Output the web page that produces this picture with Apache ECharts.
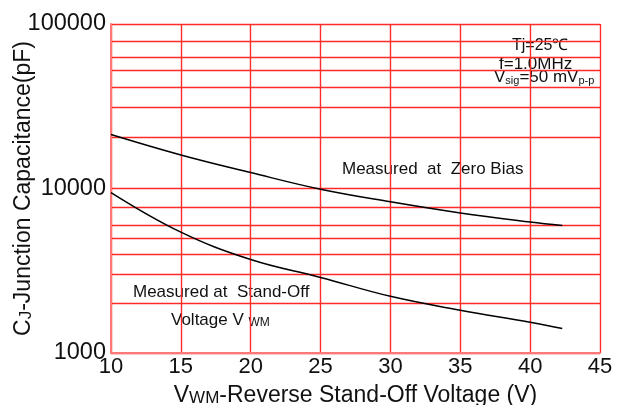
<!DOCTYPE html>
<html>
<head>
<meta charset="utf-8">
<script src="https://cdn.jsdelivr.net/npm/echarts@6/dist/echarts.min.js"></script>
<style>
html,body{margin:0;padding:0;background:#fff;}
#c{width:640px;height:405px;}
</style>
</head>
<body>
<div id="c"></div>
<script>
// Data
const voltages = [10, 15, 20, 25, 30, 35, 40, 42.3];
const zeroBias = [21300, 16000, 12500, 9900, 8300, 7100, 6250, 5950];
const standOff = [9450, 5430, 3700, 2880, 2210, 1820, 1540, 1410];
const xTicks = [10, 15, 20, 25, 30, 35, 40, 45];
const yTicks = [1000, 10000, 100000];
const minorGrid = [2000, 3000, 4000, 5000, 6000, 7700, 20500, 31000, 41000, 52000, 63000, 79000];

const FONT = 'Liberation Sans, Arial, sans-serif';
const gridValues = yTicks.concat(minorGrid).sort((a, b) => a - b);
const chart = echarts.init(document.getElementById('c'), null, {renderer: 'canvas'});

chart.setOption({
  animation: false,
  backgroundColor: '#ffffff',
  grid: {left: 111, right: 40, top: 24, bottom: 52, show: false, containLabel: false, outerBoundsMode: 'none'},
  xAxis: {
    type: 'value', min: xTicks[0], max: xTicks[xTicks.length - 1], interval: 5,
    axisLine: {show: true, onZero: false, lineStyle: {color: '#ff7878', width: 2}},
    axisTick: {show: false},
    splitLine: {show: true, lineStyle: {color: '#ff2a2a', width: 1.4}},
    axisLabel: {color: '#111', fontFamily: FONT, fontSize: 22, margin: 3},
    name: '{a|V}{s|WM}{a|-Reverse Stand-Off Voltage (V)}',
    nameLocation: 'middle', nameGap: 28, nameMoveOverlap: false,
    nameTextStyle: {
      rich: {
        a: {fontFamily: FONT, fontSize: 23, color: '#111', verticalAlign: 'bottom', lineHeight: 26},
        s: {fontFamily: FONT, fontSize: 17, color: '#111', verticalAlign: 'bottom', lineHeight: 23}
      }
    }
  },
  yAxis: {
    type: 'log', logBase: 10, min: yTicks[0], max: yTicks[yTicks.length - 1],
    axisLine: {show: true, onZero: false, lineStyle: {color: '#ff7878', width: 2}},
    axisTick: {show: false, customValues: gridValues},
    splitLine: {show: true, lineStyle: {color: '#ff2a2a', width: 1.4}},
    axisLabel: {color: '#111', fontFamily: FONT, fontSize: 23.5, margin: 5, padding: [0, 0, 10, 0],
      customValues: yTicks, formatter: v => String(Math.round(v))},
    name: '{a|C}{s|J}{a|-Junction Capacitance(pF)}',
    nameLocation: 'middle', nameGap: 76, nameRotate: 90, nameMoveOverlap: false,
    nameTextStyle: {
      rich: {
        a: {fontFamily: FONT, fontSize: 23, color: '#111', verticalAlign: 'bottom', lineHeight: 26},
        s: {fontFamily: FONT, fontSize: 17, color: '#111', verticalAlign: 'bottom', lineHeight: 22}
      }
    }
  },
  series: [
    {
      type: 'line', name: 'Zero Bias', smooth: 0.4, showSymbol: false,
      lineStyle: {color: '#000', width: 1.5},
      data: voltages.map((v, i) => [v, zeroBias[i]])
    },
    {
      type: 'line', name: 'Stand-Off', smooth: 0.4, showSymbol: false,
      lineStyle: {color: '#000', width: 1.5},
      data: voltages.map((v, i) => [v, standOff[i]])
    }
  ],
  graphic: [
    {type: 'text', left: 512, top: 38, style: {text: 'Tj=25\u2103', font: '16px ' + FONT, fill: '#111'}},
    {type: 'text', left: 499, top: 56, style: {text: 'f=1.0MHz', font: '17px ' + FONT, fill: '#111'}},
    {type: 'text', left: 494, top: 69, style: {
      text: '{a|V}{s|sig}{a|=50 mV}{s|p-p}',
      rich: {
        a: {fontFamily: FONT, fontSize: 17, fill: '#111', verticalAlign: 'bottom', lineHeight: 19},
        s: {fontFamily: FONT, fontSize: 11, fill: '#111', verticalAlign: 'bottom', lineHeight: 15}
      }
    }},
    {type: 'text', left: 342, top: 161, style: {text: 'Measured  at  Zero Bias', font: '17px ' + FONT, fill: '#111'}},
    {type: 'text', left: 133, top: 284, style: {text: 'Measured at  Stand-Off', font: '17px ' + FONT, fill: '#111'}},
    {type: 'text', left: 171, top: 312, style: {
      text: '{a|Voltage V }{s|WM}',
      rich: {
        a: {fontFamily: FONT, fontSize: 17, fill: '#111', verticalAlign: 'bottom', lineHeight: 20},
        s: {fontFamily: FONT, fontSize: 12, fill: '#111', verticalAlign: 'bottom', lineHeight: 16}
      }
    }}
  ]
});
</script>
</body>
</html>
